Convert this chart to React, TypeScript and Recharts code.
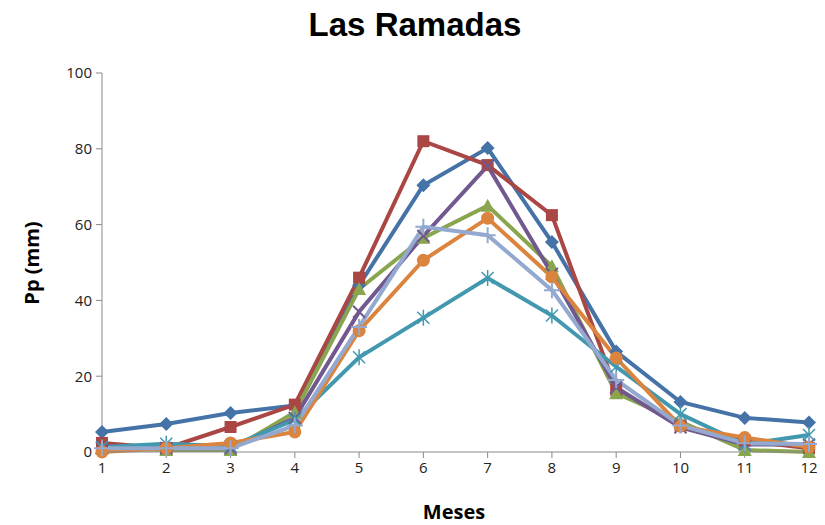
import React from "react";
import { LineChart, Line, XAxis, YAxis } from "recharts";

const meses = [1, 2, 3, 4, 5, 6, 7, 8, 9, 10, 11, 12];
const serieAzul = [5.3, 7.4, 10.3, 12.3, 44, 70.4, 80.2, 55.4, 26.5, 13.2, 9, 7.8];
const serieRoja = [2.4, 1, 6.6, 12.5, 46, 82, 75.7, 62.5, 16.4, 7, 3, 1];
const serieVerde = [1, 0.5, 0.5, 10.5, 43, 56.5, 65, 49, 15.5, 8, 0.5, 0];
const serieMorada = [1, 1, 1, 9, 37, 57, 75.5, 47, 17, 6.5, 2, 2];
const serieCeleste = [1.3, 2.2, 1.5, 8.5, 25, 35.4, 45.9, 36, 22.5, 10, 2, 4.5];
const serieNaranja = [0, 1, 2.4, 5.3, 32, 50.6, 61.7, 46.2, 24.8, 6.8, 3.8, 1.3];
const serieLila = [1, 1, 1, 7, 33, 59.4, 57.2, 42.7, 19, 7, 2.3, 2.1];
const yTicks = [0, 20, 40, 60, 80, 100];

const data = meses.map((m, i) => ({
  mes: m,
  s1: serieAzul[i],
  s2: serieRoja[i],
  s3: serieVerde[i],
  s4: serieMorada[i],
  s5: serieCeleste[i],
  s6: serieNaranja[i],
  s7: serieLila[i],
}));

type DotProps = { cx?: number; cy?: number };

const mkDot = (shape: string, color: string) => (props: DotProps) => {
  const { cx, cy } = props;
  if (cx == null || cy == null) return <g />;
  const k = `${shape}-${cx}-${cy}`;
  switch (shape) {
    case "diamond":
      return <path key={k} d={`M${cx},${cy - 7}L${cx + 7},${cy}L${cx},${cy + 7}L${cx - 7},${cy}Z`} fill={color} />;
    case "square":
      return <rect key={k} x={cx - 6} y={cy - 6} width={12} height={12} fill={color} />;
    case "triangle":
      return <path key={k} d={`M${cx},${cy - 7}L${cx + 7},${cy + 6}L${cx - 7},${cy + 6}Z`} fill={color} />;
    case "x":
      return <path key={k} d={`M${cx - 6},${cy - 6}L${cx + 6},${cy + 6}M${cx - 6},${cy + 6}L${cx + 6},${cy - 6}`} stroke={color} strokeWidth={2} fill="none" />;
    case "star":
      return <path key={k} d={`M${cx - 6},${cy - 6}L${cx + 6},${cy + 6}M${cx - 6},${cy + 6}L${cx + 6},${cy - 6}M${cx},${cy - 8}L${cx},${cy + 8}`} stroke={color} strokeWidth={1.5} fill="none" />;
    case "circle":
      return <circle key={k} cx={cx} cy={cy} r={6.5} fill={color} />;
    default:
      return <path key={k} d={`M${cx - 8},${cy}L${cx + 8},${cy}M${cx},${cy - 8}L${cx},${cy + 8}`} stroke={color} strokeWidth={2} fill="none" />;
  }
};

const series = [
  { key: "s1", color: "#4572A7", shape: "diamond" },
  { key: "s2", color: "#AA4643", shape: "square" },
  { key: "s3", color: "#89A54E", shape: "triangle" },
  { key: "s4", color: "#71588F", shape: "x" },
  { key: "s5", color: "#4198AF", shape: "star" },
  { key: "s6", color: "#DB843D", shape: "circle" },
  { key: "s7", color: "#93A9CF", shape: "plus" },
];

const tickStyle = { fontSize: 15, fill: "#222", fontFamily: "'Open Sans', sans-serif" };

export default function App() {
  return (
    <div style={{ position: "absolute", left: 0, top: 0, width: 825, height: 525, background: "#fff" }}>
      <div style={{ position: "absolute", left: 0, top: 6, width: 830, textAlign: "center", fontFamily: "'Liberation Sans', Arial, sans-serif", fontWeight: "bold", fontSize: 33 }}>
        Las Ramadas
      </div>
      <div style={{ position: "absolute", left: 0, top: 498, width: 908, textAlign: "center", fontFamily: "'Open Sans', sans-serif", fontWeight: "bold", fontSize: 20 }}>
        Meses
      </div>
      <div style={{ position: "absolute", left: 31, top: 263, transform: "translate(-50%, -50%) rotate(-90deg)", whiteSpace: "nowrap", fontFamily: "'Open Sans', sans-serif", fontWeight: "bold", fontSize: 20 }}>
        Pp (mm)
      </div>
      <LineChart width={825} height={525} data={data} margin={{ top: 73, right: 16, left: 0, bottom: 0 }}>
        <XAxis
          dataKey="mes"
          type="number"
          domain={[1, 12]}
          ticks={meses}
          height={73}
          stroke="#888"
          tickSize={6}
          tick={tickStyle}
          tickMargin={4}
        />
        <YAxis
          domain={[0, 100]}
          ticks={yTicks}
          width={102}
          stroke="#888"
          tickSize={6}
          tick={tickStyle}
          tickMargin={4}
        />
        {series.map((s) => (
          <Line
            key={s.key}
            type="linear"
            dataKey={s.key}
            stroke={s.color}
            strokeWidth={4}
            dot={mkDot(s.shape, s.color)}
            activeDot={false}
            isAnimationActive={false}
          />
        ))}
      </LineChart>
    </div>
  );
}
